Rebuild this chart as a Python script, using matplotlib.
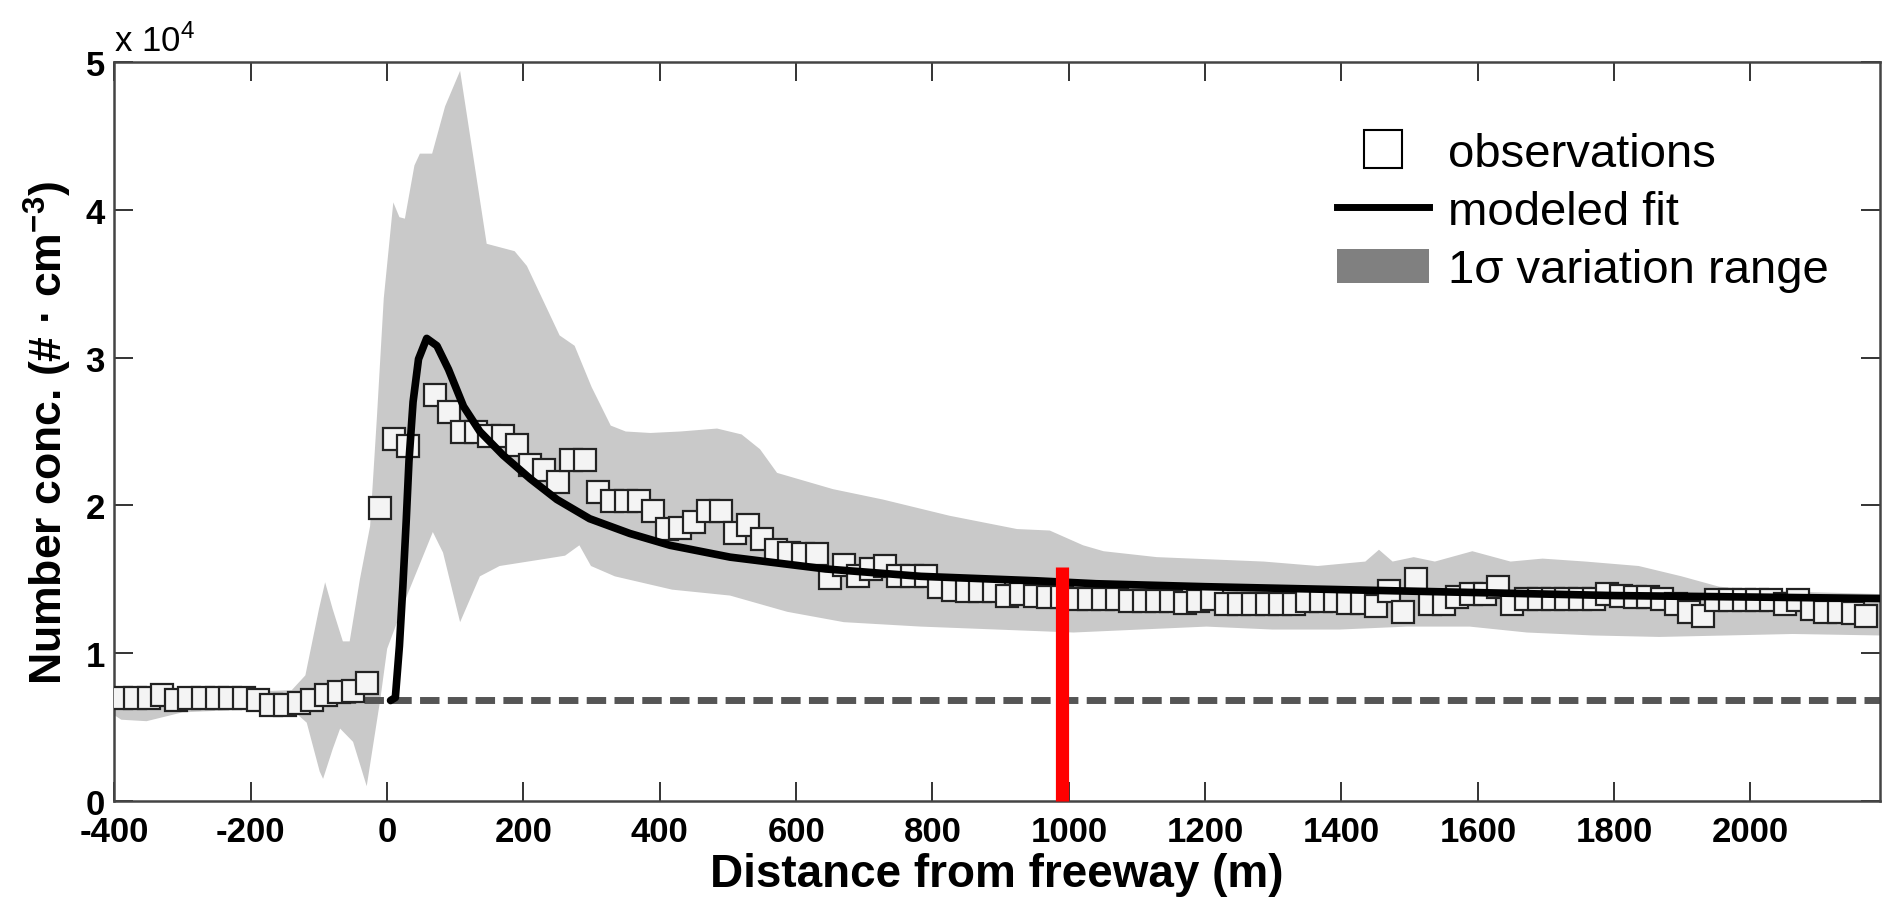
import numpy as np
import matplotlib
matplotlib.use("Agg")
import matplotlib.pyplot as plt
from matplotlib.lines import Line2D
from matplotlib.patches import Patch

plt.rcParams['font.family'] = ['Liberation Sans', 'DejaVu Sans']
plt.rcParams['mathtext.default'] = 'regular'

# observations (number conc. in units of 1e4 cm^-3), one square every 20 m
obs_x = np.arange(-390, 2180, 20)
obs_y = [0.70, 0.70, 0.70, 0.72, 0.68, 0.70, 0.70, 0.70, 0.70, 0.70,
         0.68, 0.65, 0.65, 0.66, 0.68, 0.72, 0.74, 0.745, 0.80, 1.98,
         2.45, 2.40, np.nan, 2.75, 2.63, 2.50, 2.50, 2.47, 2.47, 2.41,
         2.27, 2.24, 2.16, 2.31, 2.31, 2.09, 2.03, 2.03, 2.03, 1.96,
         1.84, 1.85, 1.89, 1.96, 1.96, 1.81, 1.87, 1.77, 1.70, 1.68,
         1.67, 1.67, 1.51, 1.60, 1.52, 1.57, 1.59, 1.52, 1.52, 1.52,
         1.45, 1.43, 1.42, 1.42, 1.42, 1.39, 1.40, 1.39, 1.38, 1.38,
         1.37, 1.37, 1.37, 1.37, 1.35, 1.35, 1.35, 1.35, 1.34, 1.35,
         1.37, 1.33, 1.33, 1.33, 1.33, 1.33, 1.33, 1.35, 1.35, 1.35,
         1.34, 1.34, 1.32, 1.42, 1.28, 1.50, 1.33, 1.33, 1.38, 1.40,
         1.40, 1.45, 1.33, 1.37, 1.37, 1.37, 1.37, 1.37, 1.37, 1.40,
         1.39, 1.38, 1.38, 1.37, 1.33, 1.28, 1.25, 1.36, 1.36, 1.36,
         1.36, 1.36, 1.33, 1.36, 1.30, 1.28, 1.28, 1.27, 1.25]

# modeled fit
fit_x = [5, 12, 18, 23, 28, 32, 38, 46, 58, 73, 90, 112, 136, 170, 210, 249,
         297, 356, 415, 503, 643, 783, 952, 1040, 1200, 1400, 1600, 1800, 2000, 2190]
fit_y = [0.68, 0.70, 1.05, 1.45, 1.90, 2.30, 2.70, 2.99, 3.13, 3.08, 2.92, 2.67,
         2.50, 2.34, 2.18, 2.04, 1.91, 1.81, 1.73, 1.65, 1.57, 1.52, 1.49, 1.47,
         1.45, 1.43, 1.41, 1.39, 1.38, 1.37]

# 1 sigma band, upper and lower edge
band_up_x = [-400, -300, -200, -140, -120, -100, -91, -80, -65, -55, -40, -25,
             -15, -5, 9, 18, 26, 40, 48, 66, 85, 107, 146, 187, 205, 253, 275,
             300, 328, 350, 386, 430, 484, 520, 547, 572, 654, 727, 825, 924,
             972, 1021, 1051, 1129, 1286, 1365, 1435, 1455, 1475, 1506, 1537,
             1592, 1648, 1695, 1758, 1836, 1899, 1954, 2032, 2112, 2190]
band_up_y = [0.74, 0.74, 0.74, 0.75, 0.85, 1.30, 1.48, 1.30, 1.08, 1.08, 1.50, 1.86,
             2.60, 3.40, 4.05, 3.95, 3.94, 4.30, 4.38, 4.38, 4.70, 4.94, 3.77, 3.72,
             3.62, 3.15, 3.08, 2.80, 2.54, 2.50, 2.49, 2.50, 2.52, 2.48, 2.38, 2.22,
             2.11, 2.04, 1.93, 1.84, 1.83, 1.73, 1.69, 1.65, 1.62, 1.59, 1.62, 1.70,
             1.62, 1.65, 1.62, 1.69, 1.62, 1.64, 1.62, 1.59, 1.52, 1.45, 1.42, 1.41,
             1.40]
band_lo_x = [-400, -390, -353, -300, -200, -140, -118, -99, -94, -80, -69, -50,
             -30, -10, 0, 30, 67, 82, 107, 136, 165, 234, 261, 282, 299, 334, 418,
             503, 587, 670, 783, 895, 1007, 1104, 1202, 1299, 1397, 1496, 1588,
             1672, 1769, 1866, 1965, 2062, 2190]
band_lo_y = [0.58, 0.55, 0.54, 0.60, 0.62, 0.62, 0.53, 0.20, 0.15, 0.35, 0.49, 0.40,
             0.10, 0.69, 1.03, 1.40, 1.82, 1.68, 1.21, 1.52, 1.59, 1.64, 1.66, 1.73,
             1.59, 1.52, 1.43, 1.39, 1.28, 1.21, 1.18, 1.16, 1.14, 1.16, 1.18, 1.16,
             1.16, 1.18, 1.18, 1.14, 1.12, 1.11, 1.12, 1.13, 1.12]

background = 0.68      # dashed background level
red_x = 990            # red marker line
red_top = 1.58

x_ticks = [-400, -200, 0, 200, 400, 600, 800, 1000, 1200, 1400, 1600, 1800, 2000]
y_ticks = [0, 1, 2, 3, 4, 5]

fig = plt.figure(figsize=(18.9, 9.03), dpi=100)
ax = fig.add_axes([114.5 / 1890, 1 - 802 / 903, (1880 - 114.5) / 1890, (802 - 63) / 903])

# band polygon
poly_x = np.concatenate([band_up_x, band_lo_x[::-1]])
poly_y = np.concatenate([band_up_y, band_lo_y[::-1]])
ax.fill(poly_x, poly_y, color='#c9c9c9', lw=0, zorder=1)

ax.axhline(background, color='#555555', lw=5, ls=(0, (2.8, 1.2)), zorder=2)

ax.plot(obs_x, obs_y, ls='none', marker='s', ms=15.5, mfc='#f4f4f4',
        mec='#222222', mew=1.6, zorder=3)

ax.plot(fit_x, fit_y, color='black', lw=5.5, solid_capstyle='round',
        solid_joinstyle='round', zorder=4)

ax.plot([red_x, red_x], [0, red_top], color='#ff0000', lw=9.5,
        solid_capstyle='butt', zorder=5, clip_on=False)

ax.set_xlim(-400, 2190)
ax.set_ylim(0, 5)
ax.set_xticks(x_ticks)
ax.set_xticklabels([str(v) for v in x_ticks])
ax.set_yticks(y_ticks)
ax.set_yticklabels([str(v) for v in y_ticks])
ax.tick_params(direction='in', top=True, right=True, length=14, width=1.4,
               labelsize=25, pad=7, color='#333333')
ax.tick_params(axis='x', pad=10)
for lab in ax.get_xticklabels() + ax.get_yticklabels():
    lab.set_fontweight('bold')
for sp in ax.spines.values():
    sp.set_color('#444444')
    sp.set_linewidth(1.8)

ax.text(0, 1.006, 'x 10$^4$', transform=ax.transAxes, fontsize=25,
        ha='left', va='bottom')

ax.set_xlabel('Distance from freeway (m)', fontsize=33, fontweight='bold', labelpad=3)
ax.set_ylabel('Number conc. (# · cm$^{-3}$)', fontsize=32, fontweight='bold', labelpad=8)

handles = [
    Line2D([], [], ls='none', marker='s', ms=28, mfc='white', mec='black', mew=1.5),
    Line2D([], [], color='black', lw=5),
    Patch(facecolor='#808080', edgecolor='none'),
]
labels = ['observations', 'modeled fit', '1σ variation range']
ax.legend(handles, labels, loc='upper left', bbox_to_anchor=(1337 / 1890, 1 - 133 / 903),
          bbox_transform=fig.transFigure, frameon=False, fontsize=34,
          handlelength=1.95, handleheight=0.72, handletextpad=0.4,
          labelspacing=0.3, borderpad=0, borderaxespad=0)

fig.savefig('out.png', dpi=100)
